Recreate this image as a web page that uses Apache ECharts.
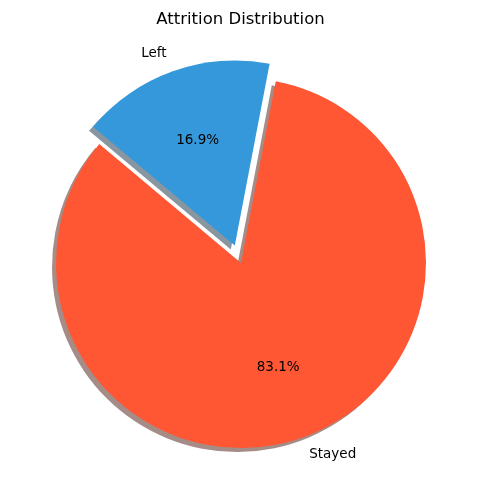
<!DOCTYPE html>
<html><head><meta charset="utf-8">
<script src="https://cdn.jsdelivr.net/npm/echarts@6/dist/echarts.min.js"></script>
<style>html,body{margin:0;padding:0;background:#fff}#c{width:481px;height:504px}</style></head>
<body><div id="c"></div>
<script>
const categories = ['Left', 'Stayed'];
const values = [16.9, 83.1];
const colors = ['#3498db', '#FF5733'];
const shadowColors = ['rgba(16,46,66,0.5)', 'rgba(77,26,15,0.5)'];
const exploded = [true, false];

const R = 185, CX = 241, CY = 263;
const FONT = 'DejaVu Sans';

const mainData = categories.map((c, i) => ({
  name: c, value: values[i], selected: exploded[i],
  itemStyle: { color: colors[i], shadowColor: shadowColors[i], shadowBlur: 0, shadowOffsetX: -4, shadowOffsetY: 4 }
}));
const pctData = categories.map((c, i) => ({
  name: c, value: values[i], selected: exploded[i],
  itemStyle: { color: 'rgba(0,0,0,0)' }
}));

const chart = echarts.init(document.getElementById('c'), null, { renderer: 'canvas' });
chart.setOption({
  animation: false,
  backgroundColor: '#fff',
  title: {
    text: 'Attrition Distribution', left: 'center', top: 6,
    textStyle: { fontFamily: FONT, fontSize: 16.5, fontWeight: 'normal', color: '#000' }
  },
  series: [
    {
      type: 'pie', radius: R, center: [CX, CY], startAngle: 140, clockwise: true,
      selectedMode: 'multiple', selectedOffset: 18.5, avoidLabelOverlap: false,
      emphasis: { disabled: true },
      label: { show: true, position: 'outside', distanceToLabelLine: 0, color: '#000', fontFamily: FONT, fontSize: 13.5 },
      labelLine: { show: false, length: 18.5, length2: 0 },
      data: mainData
    },
    {
      type: 'pie', radius: [0.2 * R - 6, R], center: [CX, CY], startAngle: 140, clockwise: true,
      selectedMode: 'multiple', selectedOffset: 18.5, silent: true, avoidLabelOverlap: false,
      emphasis: { disabled: true },
      label: { show: true, position: 'inside', color: '#000', fontFamily: FONT, fontSize: 13.5,
        formatter: p => p.value.toFixed(1) + '%' },
      labelLine: { show: false },
      data: pctData
    }
  ]
});
</script></body></html>
